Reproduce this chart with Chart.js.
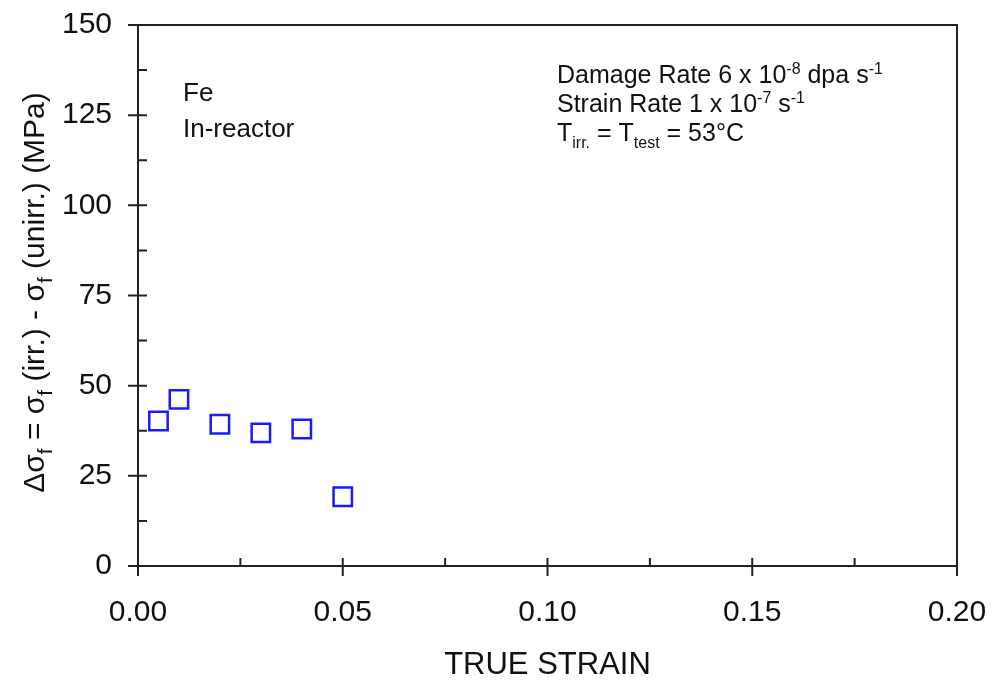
<!DOCTYPE html>
<html>
<head>
<meta charset="utf-8">
<script src="https://cdn.jsdelivr.net/npm/chart.js@4/dist/chart.umd.min.js"></script>
<style>
  body { margin: 0; background: #fff; }
  canvas { display: block; }
</style>
</head>
<body>
<canvas id="chart" width="993" height="682"></canvas>
<script>
const strain = [0.005, 0.01, 0.02, 0.03, 0.04, 0.05];
const deltaSigma = [40.2, 46.2, 39.3, 36.9, 38.0, 19.2];
const xRange = [0, 0.2];
const yRange = [0, 150];

const FONT = '"Liberation Sans", Arial, sans-serif';
const INK = '#222';

// draws a line of text made of pieces, some raised or lowered
function drawRich(ctx, parts, x, y, size, align, ratio) {
  const small = Math.round(size * (ratio || 0.62));
  let total = 0;
  parts.forEach(p => {
    ctx.font = (p.sub || p.sup ? small : size) + 'px ' + FONT;
    p.w = ctx.measureText(p.t).width;
    total += p.w;
  });
  let cx = align === 'center' ? x - total / 2 : x;
  parts.forEach(p => {
    ctx.font = (p.sub || p.sup ? small : size) + 'px ' + FONT;
    let dy = 0;
    if (p.sub) dy = size * 0.28;
    if (p.sup) dy = -size * 0.38;
    ctx.fillText(p.t, cx, y + dy);
    cx += p.w;
  });
}

const extras = {
  id: 'extras',
  afterDraw(chart) {
    const ctx = chart.ctx;
    const a = chart.chartArea;
    const xs = chart.scales.x, ys = chart.scales.y;
    ctx.save();
    ctx.strokeStyle = INK;
    ctx.lineWidth = 2;

    // frame top and right
    ctx.beginPath();
    ctx.moveTo(a.left - 10, a.top);
    ctx.lineTo(a.right, a.top);
    ctx.lineTo(a.right, a.bottom + 10);
    ctx.stroke();

    // x ticks
    const xt = xs.ticks.map(t => t.value);
    ctx.beginPath();
    xt.forEach((v, i) => {
      const px = xs.getPixelForValue(v);
      ctx.moveTo(px, a.bottom - 8);
      ctx.lineTo(px, a.bottom + 10);
      if (i < xt.length - 1) {
        const mx = xs.getPixelForValue((v + xt[i + 1]) / 2);
        ctx.moveTo(mx, a.bottom);
        ctx.lineTo(mx, a.bottom - 8);
      }
    });
    // y ticks
    const yt = ys.ticks.map(t => t.value);
    yt.forEach((v, i) => {
      const py = ys.getPixelForValue(v);
      ctx.moveTo(a.left - 10, py);
      ctx.lineTo(a.left + 9, py);
      if (i < yt.length - 1) {
        const my = ys.getPixelForValue((v + yt[i + 1]) / 2);
        ctx.moveTo(a.left, my);
        ctx.lineTo(a.left + 9, my);
      }
    });
    ctx.stroke();

    ctx.fillStyle = '#111';
    ctx.textBaseline = 'alphabetic';
    ctx.textAlign = 'left';

    // labels inside the plot
    ctx.font = '26px ' + FONT;
    ctx.fillText('Fe', a.left + 45, a.top + 76);
    ctx.fillText('In-reactor', a.left + 45, a.top + 112);

    const ax = a.left + 419;
    drawRich(ctx, [{t: 'Damage Rate 6 x 10'}, {t: '-8', sup: true}, {t: ' dpa s'}, {t: '-1', sup: true}], ax, a.top + 58, 25);
    drawRich(ctx, [{t: 'Strain Rate 1 x 10'}, {t: '-7', sup: true}, {t: ' s'}, {t: '-1', sup: true}], ax, a.top + 87, 25);
    drawRich(ctx, [{t: 'T'}, {t: 'irr.', sub: true}, {t: ' = T'}, {t: 'test', sub: true}, {t: ' = 53°C'}], ax, a.top + 116, 25);

    // x axis title
    ctx.font = '31px ' + FONT;
    ctx.textAlign = 'center';
    ctx.fillText('TRUE STRAIN', (a.left + a.right) / 2, 674);

    // y axis title, rotated
    ctx.translate(44, (a.top + a.bottom) / 2 - 3);
    ctx.rotate(-Math.PI / 2);
    ctx.textAlign = 'left';
    drawRich(ctx, [
      {t: 'Δσ'}, {t: 'f', sub: true},
      {t: ' = σ'}, {t: 'f', sub: true},
      {t: ' (irr.) - σ'}, {t: 'f', sub: true},
      {t: ' (unirr.) (MPa)'}
    ], 0, 0, 30, 'center', 0.7);
    ctx.restore();
  }
};

new Chart(document.getElementById('chart'), {
  type: 'scatter',
  data: {
    datasets: [{
      data: strain.map((s, i) => ({x: s, y: deltaSigma[i]})),
      pointStyle: 'rect',
      pointRadius: 13,
      pointHoverRadius: 13,
      pointBorderWidth: 2.5,
      pointBorderColor: '#1a1aff',
      pointBackgroundColor: 'rgba(0,0,0,0)'
    }]
  },
  options: {
    responsive: false,
    animation: false,
    layout: { padding: { top: 25, right: 36, left: 0, bottom: 0 } },
    plugins: { legend: { display: false }, tooltip: { enabled: false } },
    scales: {
      x: {
        type: 'linear',
        min: xRange[0], max: xRange[1],
        afterFit(scale) {
          scale.height = 116;
          scale.paddingLeft = 0;
          scale.paddingRight = 0;
        },
        grid: { drawOnChartArea: false, drawTicks: false },
        border: { display: true, color: INK, width: 2 },
        ticks: {
          stepSize: 0.05,
          padding: 29,
          color: '#111',
          font: { family: FONT, size: 30 },
          maxRotation: 0,
          callback: v => Number(v).toFixed(2)
        }
      },
      y: {
        min: yRange[0], max: yRange[1],
        afterFit(scale) {
          scale.width = 138;
          scale.paddingTop = 0;
          scale.paddingBottom = 0;
        },
        grid: { drawOnChartArea: false, drawTicks: false },
        border: { display: true, color: INK, width: 2 },
        ticks: {
          stepSize: 25,
          padding: 26,
          color: '#111',
          font: { family: FONT, size: 30 }
        }
      }
    }
  },
  plugins: [extras]
});
</script>
</body>
</html>
